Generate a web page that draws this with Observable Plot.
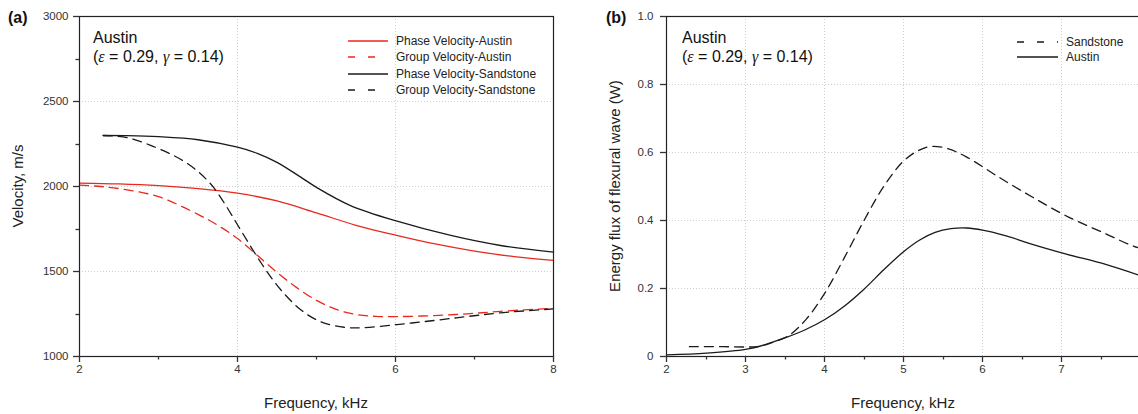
<!DOCTYPE html>
<html><head><meta charset="utf-8">
<script src="https://cdn.jsdelivr.net/npm/d3@7"></script>
<script src="https://cdn.jsdelivr.net/npm/@observablehq/plot@0.6"></script>
<style>
html,body{margin:0;padding:0;background:#fff;overflow:hidden;}
#wrap{display:flex;width:1138px;height:414px;overflow:hidden;}
#wrap svg{flex:none;display:block;}
</style></head><body><div id="wrap"></div>
<script>
// ---------- Panel (a): velocity vs frequency ----------
const phaseAustinF = [2, 2.5, 3, 3.5, 4, 4.5, 5, 5.5, 6, 6.5, 7, 7.5, 8];
const phaseAustinV = [2020, 2015, 2005, 1988, 1961, 1915, 1845, 1772, 1714, 1662, 1620, 1588, 1565];
const groupAustinF = [2, 2.27, 2.6, 3, 3.5, 3.75, 4, 4.25, 4.5, 4.75, 5, 5.25, 5.5, 5.75, 6.06, 6.49, 6.91, 7.33, 8];
const groupAustinV = [2008, 2000, 1980, 1940, 1836, 1772, 1694, 1595, 1495, 1405, 1330, 1277, 1247, 1236, 1235, 1241, 1251, 1266, 1284];
const phaseSandF = [2.3, 2.6, 3, 3.5, 4, 4.25, 4.5, 4.8, 5, 5.43, 6.02, 6.7, 7.33, 8];
const phaseSandV = [2300, 2299, 2293, 2275, 2231, 2195, 2142, 2055, 1995, 1888, 1796, 1712, 1653, 1614];
const groupSandF = [2.3, 2.6, 2.9, 3.2, 3.35, 3.5, 3.6, 3.7, 3.85, 4.0, 4.15, 4.3, 4.45, 4.6, 4.8, 5.05, 5.35, 5.56, 6.02, 6.49, 6.91, 7.33, 8];
const groupSandV = [2300, 2288, 2242, 2180, 2140, 2088, 2045, 1993, 1890, 1775, 1660, 1550, 1450, 1365, 1275, 1205, 1172, 1169, 1188, 1212, 1235, 1257, 1280];

const seriesNamesA = ["Phase Velocity-Austin", "Group Velocity-Austin", "Phase Velocity-Sandstone", "Group Velocity-Sandstone"];
const xTicksA = [2, 4, 6, 8];
const xMinorA = [3, 5, 7];
const yTicksA = [1000, 1500, 2000, 2500, 3000];
const yMinorA = [1250, 1750, 2250, 2750];

// ---------- Panel (b): energy flux vs frequency ----------
const sandFluxF = [2.29, 2.7, 3.0, 3.15, 3.3, 3.55, 3.77, 4.0, 4.25, 4.5, 4.75, 5.0, 5.2, 5.35, 5.55, 5.79, 6.21, 6.63, 7.09, 7.56, 7.85, 7.97];
const sandFluxV = [0.029, 0.029, 0.028, 0.029, 0.038, 0.062, 0.110, 0.185, 0.290, 0.400, 0.500, 0.575, 0.607, 0.618, 0.612, 0.588, 0.527, 0.469, 0.410, 0.361, 0.330, 0.320];
const austinFluxF = [2, 2.51, 3.0, 3.25, 3.5, 3.75, 4.0, 4.25, 4.5, 4.75, 5.0, 5.2, 5.4, 5.6, 5.8, 6.0, 6.3, 6.59, 7.05, 7.56, 7.97];
const austinFluxV = [0.005, 0.010, 0.021, 0.035, 0.055, 0.078, 0.108, 0.148, 0.198, 0.255, 0.308, 0.342, 0.365, 0.376, 0.378, 0.372, 0.355, 0.333, 0.302, 0.271, 0.240];

const seriesNamesB = ["Sandstone", "Austin"];
const xTicksB = [2, 3, 4, 5, 6, 7];
const xMinorB = [2.5, 3.5, 4.5, 5.5, 6.5, 7.5];
const yTicksB = [0, 0.2, 0.4, 0.6, 0.8, 1.0];
const yTickLabelsB = ["0", "0.2", "0.4", "0.6", "0.8", "1.0"];

const RED = "#e8291c", BLACK = "#1a1a1a";
const FONT = '"Liberation Sans", Arial, Helvetica, sans-serif';
const DASH = "9,6";

const rows = (F, V) => F.map((f, i) => ({f, v: V[i]}));

function makePanel(cfg) {
  const gridStyle = {stroke: "#cfcfcf", strokeOpacity: 1, strokeDasharray: "1,2", strokeWidth: 1};
  const marks = [
    Plot.gridX(cfg.xMajor, gridStyle),
    Plot.gridY(cfg.yMajor, gridStyle),
    ...cfg.lines.map(s => Plot.line(s.rows, {x: "f", y: "v", stroke: s.color, strokeWidth: 1.3, strokeDasharray: s.dash, curve: "catmull-rom"})),
    Plot.axisX(cfg.xMajor, {tickSize: 6, tickPadding: 2, tickFormat: cfg.xFormat, label: null, stroke: "#333", fill: "#333"}),
    Plot.axisY(cfg.yMajor, {tickSize: 6, tickPadding: cfg.yPad, tickFormat: cfg.yFormat, label: null, stroke: "#333", fill: "#333"}),
    Plot.frame({stroke: "#222", strokeWidth: 1.2})
  ];
  return Plot.plot({
    width: 570, height: 414,
    marginTop: 16, marginBottom: 58, marginLeft: cfg.marginLeft, marginRight: cfg.marginRight,
    style: {fontFamily: FONT, fontSize: "11.5px", color: "#333", background: "#fff", overflow: "visible"},
    x: {domain: cfg.xDomain, label: null},
    y: {domain: cfg.yDomain, label: null},
    marks
  });
}

// explicit tick marks placed through the plot's own scales
function addTicks(svg, cfg) {
  const sx = svg.scale("x"), sy = svg.scale("y");
  const [x0] = sx.range, [y0] = sy.range;
  const g = d3.select(svg).append("g").attr("stroke", "#333").attr("stroke-width", 1.3);
  const tx = (vals, len) => vals.forEach(v => { const x = Math.round(sx.apply(v)) + 0.5;
    g.append("line").attr("x1", x).attr("x2", x).attr("y1", y0).attr("y2", y0 + len); });
  const ty = (vals, len) => vals.forEach(v => { const y = Math.round(sy.apply(v)) + 0.5;
    g.append("line").attr("x1", x0).attr("x2", x0 - len).attr("y1", y).attr("y2", y); });
  tx(cfg.xMajor, 6); tx(cfg.xMinor, 3.5);
  ty(cfg.yMajor, 6); if (cfg.yMinor) ty(cfg.yMinor, 3.5);
}

function decorate(svg, o) {
  const s = d3.select(svg).style("font-family", FONT);
  const txt = () => s.append("text").attr("text-anchor", "start");
  txt().attr("x", o.tagX).attr("y", 23).attr("font-size", 16).attr("font-weight", "bold").attr("fill", "#111").text(o.tag);
  txt().attr("x", o.annX).attr("y", 43).attr("font-size", 16).attr("fill", "#111").text("Austin");
  const t = txt().attr("x", o.annX).attr("y", 62).attr("font-size", 16).attr("fill", "#111");
  t.append("tspan").text("(");
  t.append("tspan").attr("font-family", '"Liberation Serif", "Times New Roman", serif').attr("font-style", "italic").text("ε");
  t.append("tspan").text(" = 0.29, ");
  t.append("tspan").attr("font-family", '"Liberation Serif", "Times New Roman", serif').attr("font-style", "italic").text("γ");
  t.append("tspan").text(" = 0.14)");
  s.append("text").attr("x", o.xLabelX).attr("y", 408).attr("text-anchor", "middle").attr("font-size", 15).attr("fill", "#222").text("Frequency, kHz");
  s.append("text").attr("transform", `translate(${o.yLabelX},186) rotate(-90)`).attr("text-anchor", "middle").attr("dy", "0.35em").attr("font-size", 15).attr("fill", "#222").text(o.yLabel);
  const g = s.append("g");
  o.legend.forEach((it, i) => {
    const y = o.legY[i];
    g.append("line").attr("x1", o.legX0).attr("x2", o.legX1).attr("y1", y).attr("y2", y)
      .attr("stroke", it.color).attr("stroke-width", 1.4).attr("stroke-dasharray", it.dash ? "7,13" : null);
    g.append("text").attr("text-anchor", "start").attr("x", o.legTX).attr("y", y).attr("dy", "0.35em").attr("font-size", 12).attr("fill", "#222").text(it.name);
  });
}

const linesA = [
  {name: seriesNamesA[0], rows: rows(phaseAustinF, phaseAustinV), color: RED, dash: null},
  {name: seriesNamesA[1], rows: rows(groupAustinF, groupAustinV), color: RED, dash: DASH},
  {name: seriesNamesA[2], rows: rows(phaseSandF, phaseSandV), color: BLACK, dash: null},
  {name: seriesNamesA[3], rows: rows(groupSandF, groupSandV), color: BLACK, dash: DASH}
];
const cfgA = {
  xDomain: [2, 8], yDomain: [1000, 3000], marginLeft: 79, marginRight: 17, yPad: 5,
  xMajor: xTicksA, xMinor: xMinorA, yMajor: yTicksA, yMinor: yMinorA,
  xFormat: d3.format("d"), yFormat: d3.format("d"), lines: linesA
};
const svgA = makePanel(cfgA);
addTicks(svgA, cfgA);
decorate(svgA, {tag: "(a)", tagX: 8, annX: 93, xLabelX: 316, yLabelX: 18, yLabel: "Velocity, m/s",
  legend: linesA, legX0: 348, legX1: 388, legTX: 396, legY: [41, 57, 74, 90]});

const linesB = [
  {name: seriesNamesB[0], rows: rows(sandFluxF, sandFluxV), color: BLACK, dash: DASH},
  {name: seriesNamesB[1], rows: rows(austinFluxF, austinFluxV), color: BLACK, dash: null}
];
const cfgB = {
  xDomain: [2, 8], yDomain: [0, 1], marginLeft: 96, marginRight: 0, yPad: 7,
  xMajor: xTicksB, xMinor: xMinorB, yMajor: yTicksB, yMinor: null,
  xFormat: d3.format("d"), yFormat: d => yTickLabelsB[yTicksB.indexOf(d)], lines: linesB
};
const svgB = makePanel(cfgB);
addTicks(svgB, cfgB);
decorate(svgB, {tag: "(b)", tagX: 36, annX: 112, xLabelX: 333, yLabelX: 45, yLabel: "Energy flux of flexural wave (W)",
  legend: linesB, legX0: 447, legX1: 488, legTX: 496, legY: [42, 57]});

document.getElementById("wrap").append(svgA, svgB);
</script></body></html>
